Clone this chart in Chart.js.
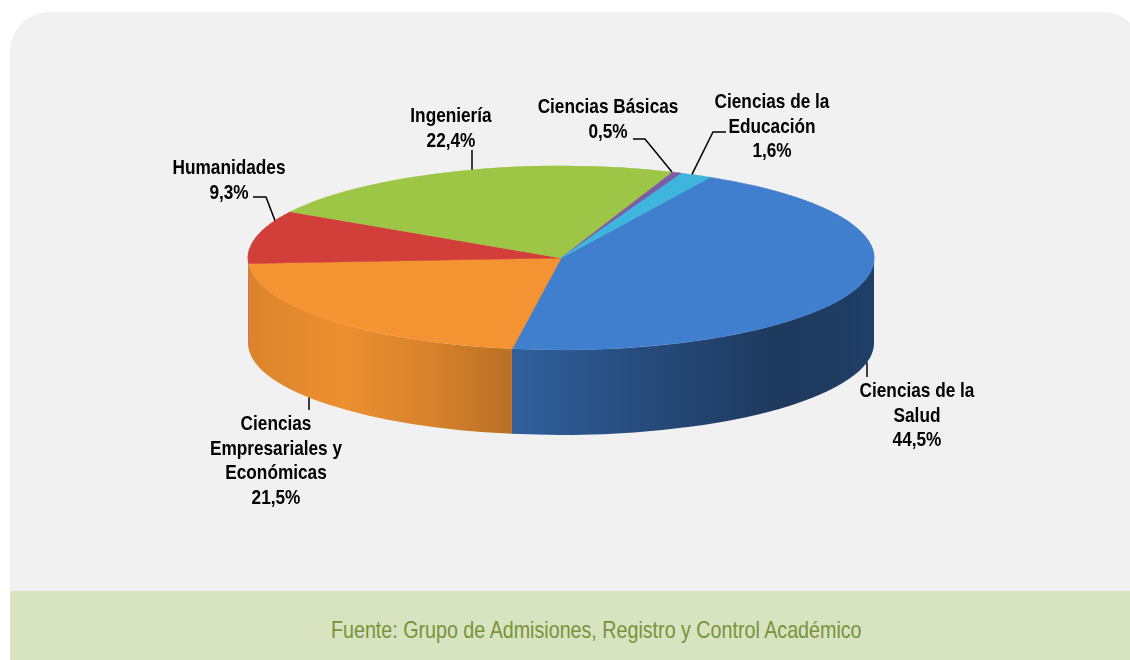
<!DOCTYPE html>
<html>
<head>
<meta charset="utf-8">
<script src="https://cdn.jsdelivr.net/npm/chart.js@4"></script>
<style>
  html, body { margin: 0; padding: 0; background: #fff; overflow: hidden; }
  body { width: 1130px; height: 660px; position: relative; }
  #card { position: absolute; left: 10px; top: 12px; width: 1133px; height: 720px;
          background: #f1f1f1; border-radius: 40px; overflow: hidden; }
  #band { position: absolute; left: 0; top: 579px; width: 100%; height: 200px; background: #d8e4bf; }
  #source { position: absolute; left: 331px; top: 616px; font-size: 24px; line-height: 28px; color: #77933c;
            font-family: "Liberation Sans Narrow", "Liberation Sans", sans-serif; white-space: nowrap;
            transform-origin: left top; }
  #chart { position: absolute; left: 0; top: 0; }
</style>
</head>
<body>
<div id="card"><div id="band"></div></div>
<div id="source">Fuente: Grupo de Admisiones, Registro y Control Académico</div>
<canvas id="chart" width="1130" height="660"></canvas>
<script>
const categories = ['Ciencias de la Salud', 'Ciencias Empresariales y Económicas', 'Humanidades',
                    'Ingeniería', 'Ciencias Básicas', 'Ciencias de la Educación'];
const shares = [44.5, 21.5, 9.3, 22.4, 0.5, 1.6];
const labelLines = [['Ciencias de la', 'Salud'], ['Ciencias', 'Empresariales y', 'Económicas'],
                    ['Humanidades'], ['Ingeniería'], ['Ciencias Básicas'], ['Ciencias de la', 'Educación']];
const sliceColors = ['#407ece', '#f39331', '#d23f3b', '#9ec646', '#7d5ba6', '#3eb5dc'];

// how the flat pie is laid onto the page
const PIE = { cx: 561, cy: 258, rx: 313, ry: 92, depth: 85 };
// darkening of the side wall, left to right
const sideShade = [[0, 0.9], [0.15, 0.97], [0.3, 0.88], [0.42, 0.76], [0.6, 0.62], [0.85, 0.45], [1, 0.5]];
// where each label sits (first baseline) and its leader line
const labelPos = [
  { x: 917, y: 397, leader: [[867, 377]], toX: 867, face: 'bottom' },
  { x: 276, y: 430, leader: [[309, 410]], toX: 309, face: 'bottom' },
  { x: 229, y: 174, leader: [[253, 197], [266, 197]], toX: 275, face: 'top' },
  { x: 451, y: 122, leader: [[472, 150]], toX: 472, face: 'top' },
  { x: 608, y: 113, leader: [[633, 139], [645, 139]], toX: 672, face: 'top' },
  { x: 772, y: 108, leader: [[726, 132], [713, 132]], toX: 692, face: 'top' },
];

const probe = document.createElement('canvas').getContext('2d');
function hasFont(name) {
  probe.font = '20px monospace';
  const a = probe.measureText('Humanidades Económicas').width;
  probe.font = '20px "' + name + '", monospace';
  return probe.measureText('Humanidades Económicas').width !== a;
}
const NARROW = hasFont('Liberation Sans Narrow');
const squeeze = NARROW ? 1 : 0.82;
const labelFont = NARROW ? 'bold 21px "Liberation Sans Narrow"' : 'bold 21px "Liberation Sans"';
if (!NARROW) document.getElementById('source').style.transform = 'scaleX(0.82)';

function shade(hex, f) {
  const n = parseInt(hex.slice(1), 16);
  const c = [(n >> 16) & 255, (n >> 8) & 255, n & 255].map(v => Math.round(v * f));
  return 'rgb(' + c.join(',') + ')';
}

function drawSide(ctx, s, e, color) {
  const { cx, cy, rx, ry, depth } = PIE;
  const g = ctx.createLinearGradient(cx - rx, 0, cx + rx, 0);
  sideShade.forEach(([t, f]) => g.addColorStop(t, shade(color, f)));
  ctx.beginPath();
  ctx.ellipse(cx, cy, rx, ry, 0, s, e, false);
  ctx.lineTo(cx + rx * Math.cos(e), cy + ry * Math.sin(e) + depth);
  ctx.ellipse(cx, cy + depth, rx, ry, 0, e, s, true);
  ctx.closePath();
  ctx.fillStyle = g;
  ctx.fill();
}

function rimY(x, face) {
  const { cx, cy, rx, ry, depth } = PIE;
  const u = Math.min(1, Math.abs(x - cx) / rx);
  const h = ry * Math.sqrt(1 - u * u);
  return face === 'top' ? cy - h : cy + h + depth;
}

function text(ctx, str, x, y) {
  ctx.save();
  ctx.translate(x, y);
  ctx.scale(squeeze, 1);
  ctx.fillText(str, 0, 0);
  ctx.restore();
}

const pie3d = {
  id: 'pie3d',
  beforeDatasetsDraw(chart) {
    const ctx = chart.ctx;
    const arcs = chart.getDatasetMeta(0).data;
    const TAU = Math.PI * 2;
    arcs.forEach((arc, i) => {
      for (let k = -1; k <= 1; k++) {
        const s = Math.max(arc.startAngle, k * TAU);
        const e = Math.min(arc.endAngle, k * TAU + Math.PI);
        if (e - s > 0.02) drawSide(ctx, s, e, sliceColors[i]);
      }
    });
    const a0 = arcs[0];
    ctx.save();
    ctx.translate(PIE.cx, PIE.cy);
    ctx.scale(PIE.rx / a0.outerRadius, PIE.ry / a0.outerRadius);
    ctx.translate(-a0.x, -a0.y);
  },
  afterDatasetsDraw(chart) {
    const ctx = chart.ctx;
    ctx.restore();
    ctx.save();
    ctx.strokeStyle = '#000';
    ctx.lineWidth = 1.5;
    labelPos.forEach(p => {
      ctx.beginPath();
      p.leader.forEach(([x, y], j) => j ? ctx.lineTo(x, y) : ctx.moveTo(x, y));
      ctx.lineTo(p.toX, rimY(p.toX, p.face));
      ctx.stroke();
    });
    ctx.fillStyle = '#000';
    ctx.font = labelFont;
    ctx.textAlign = 'center';
    ctx.textBaseline = 'alphabetic';
    labelPos.forEach((p, i) => {
      const lines = labelLines[i].concat(shares[i].toFixed(1).replace('.', ',') + '%');
      lines.forEach((l, j) => text(ctx, l, p.x, p.y + j * 24.5));
    });
    ctx.restore();
  }
};

new Chart(document.getElementById('chart'), {
  type: 'pie',
  data: {
    labels: categories,
    datasets: [{
      data: shares,
      backgroundColor: sliceColors,
      borderColor: sliceColors,
      borderWidth: 1,
    }],
  },
  options: {
    responsive: false,
    animation: false,
    events: [],
    rotation: 28.5,
    layout: { padding: { left: 248, right: 256, top: 17, bottom: 17 } },
    plugins: {
      legend: { display: false },
      tooltip: { enabled: false },
    },
  },
  plugins: [pie3d],
});
</script>
</body>
</html>
